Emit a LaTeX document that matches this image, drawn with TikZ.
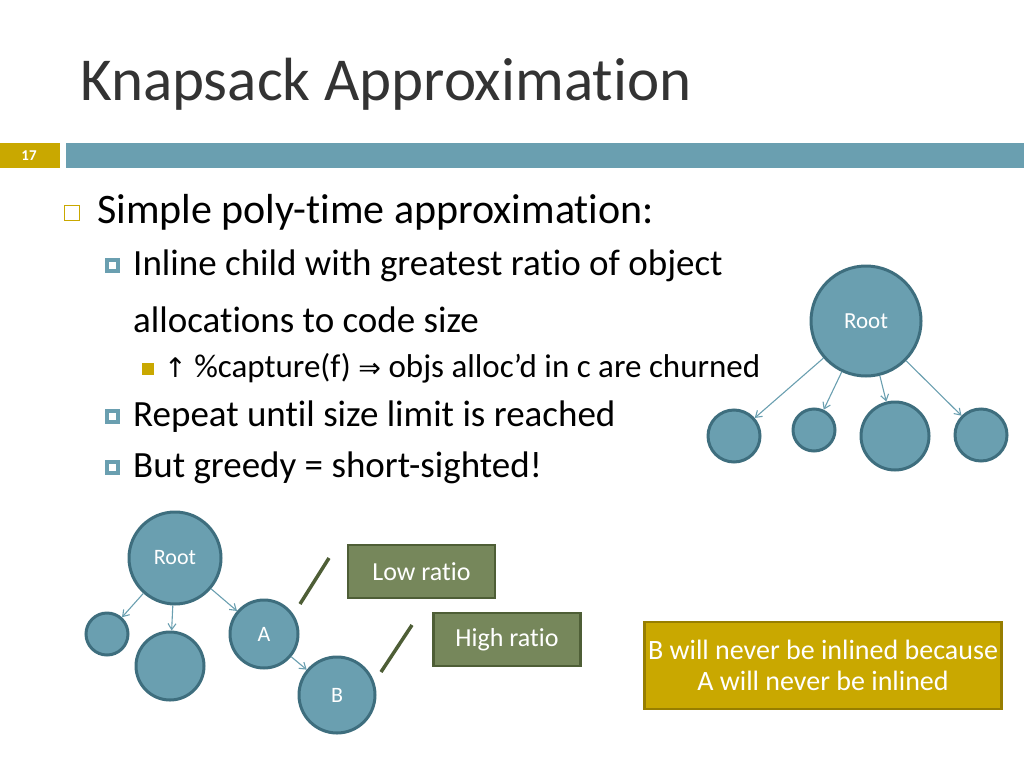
\documentclass[tikz,border=0pt]{standalone}
\usepackage{fontspec}
\setmainfont{Carlito}[Ligatures=NoCommon]
\newfontfamily\symf{DejaVu Sans}
\usetikzlibrary{arrows.meta}
\definecolor{tblue}{HTML}{6A9FB0}
\definecolor{tdark}{HTML}{3E6E7E}
\definecolor{tgold}{HTML}{C9A800}
\definecolor{tolive}{HTML}{76875B}
\definecolor{tolived}{HTML}{4E5E36}
\tikzset{
 circ/.style={circle,draw=tdark,fill=tblue,line width=3pt,inner sep=0pt,text=white,font=\fontsize{18}{20}\selectfont},
 arr/.style={draw=tblue,line width=1.1pt,-{Straight Barb[length=6pt,width=8pt]}},
 lbl/.style={draw=tolived,fill=tolive,line width=2.5pt,minimum width=147pt,minimum height=53pt,text=white,font=\fontsize{26}{30}\selectfont},
 lnk/.style={draw=tolived,line width=3.5pt},
 txt/.style={anchor=west,inner sep=0pt},
}
\begin{document}
\begin{tikzpicture}[x=1pt,y=-1pt]
\useasboundingbox (0,0) rectangle (1024,768);
\node[txt,font=\fontsize{61}{70}\selectfont,text=black!80] (title) at (80,84) {Knapsack Approximation};
\fill[tgold] (0,143) rectangle (60,168);
\node[text=white,font=\bfseries\fontsize{15}{17}\selectfont] (num) at (29,155.5) {17};
\fill[tblue] (66,143) rectangle (1024,168);
% bullets
\draw[tgold,line width=1pt] (64,205) rectangle (79,220);
\node[txt,font=\fontsize{42}{48}\selectfont] (l1) at (97,212) {Simple poly-time approximation:};
\foreach \y in {266,417,468}{\fill[tblue] (105,\y-8) rectangle (120,\y+7);\fill[white] (109,\y-4) rectangle (116,\y+3);}
\node[txt,font=\fontsize{37}{42}\selectfont] (l2) at (133,266) {Inline child with greatest ratio of object};
\node[txt,font=\fontsize{37}{42}\selectfont] (l3) at (133,320) {allocations to code size};
\fill[tgold] (142,363) rectangle (154,375);
\node[txt,font=\fontsize{33}{38}\selectfont] (l4) at (164,368) {{\symf\fontsize{27}{30}\selectfont ↑} \%capture(f) {\symf\fontsize{27}{30}\selectfont ⇒} objs alloc’d in c are churned};
\node[txt,font=\fontsize{37}{42}\selectfont] (l5) at (133,417) {Repeat until size limit is reached};
\node[txt,font=\fontsize{37}{42}\selectfont] (l6) at (133,468) {But greedy = short-sighted!};
% right tree
\node[circ,minimum size=110pt,font=\fontsize{23}{26}\selectfont] (r) at (866,321) {Root};
\node[circ,minimum size=52pt] (c1) at (734,436) {};
\node[circ,minimum size=42pt] (c2) at (814,430) {};
\node[circ,minimum size=68pt] (c3) at (895,436) {};
\node[circ,minimum size=52pt] (c4) at (981,435) {};
\foreach \c in {c1,c2,c3,c4}{\draw[arr] (r) -- (\c);}
% bottom tree
\node[circ,minimum size=92pt,font=\fontsize{22}{26}\selectfont] (br) at (175,558) {Root};
\node[circ,minimum size=42pt] (b1) at (107,634) {};
\node[circ,minimum size=68pt] (b2) at (170,666) {};
\node[circ,minimum size=68pt,font=\fontsize{22}{26}\selectfont] (ba) at (264,634) {A};
\node[circ,minimum size=76pt,font=\fontsize{22}{26}\selectfont] (bb) at (337,695) {B};
\draw[arr] (br) -- (b1);
\draw[arr] (br) -- (b2);
\draw[arr] (br) -- (ba);
\draw[arr] (ba) -- (bb);
\node[lbl] (low) at (421.5,571.5) {Low ratio};
\node[lbl] (high) at (507,639.5) {High ratio};
\coordinate (la) at (300,604); \coordinate (lb) at (329,558);
\coordinate (ha) at (381,672); \coordinate (hb) at (412,625);
\draw[lnk] (la) -- (lb);
\draw[lnk] (ha) -- (hb);
\node[draw=tgold!75!black,fill=tgold,line width=2.5pt,minimum width=352pt,minimum height=87pt,text=white,align=center,font=\fontsize{28}{31}\selectfont] (note) at (823,665.5) {B will never be inlined because\\A will never be inlined};
\end{tikzpicture}
\end{document}
